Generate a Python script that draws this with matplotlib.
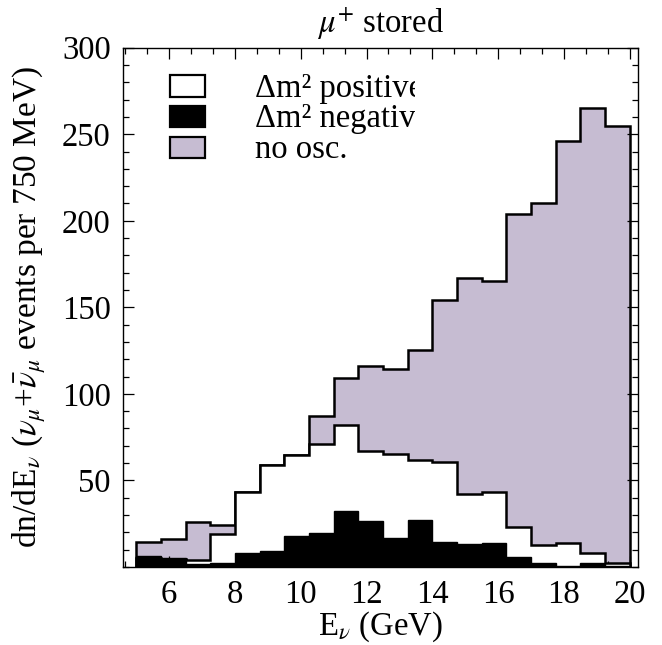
import numpy as np
import matplotlib
matplotlib.use("Agg")
import matplotlib.pyplot as plt
from matplotlib.patches import Rectangle
from matplotlib.ticker import MultipleLocator, FixedLocator
from matplotlib.transforms import Bbox, TransformedBbox

plt.rcParams['font.family'] = ['Liberation Serif', 'DejaVu Serif']
plt.rcParams['mathtext.fontset'] = 'stix'

# Energy binning: 750 MeV bins from 5 to 20 GeV
bin_start = 5.0
bin_width = 0.75
n_bins = 20
edges = bin_start + bin_width * np.arange(n_bins + 1)

# Events per bin
no_osc = [14.3, 16.2, 26.2, 24.3, 43.5, 59.0, 64.4, 87.0, 109.0, 116.0,
          114.5, 125.4, 154.3, 166.9, 165.3, 204.0, 210.0, 246.0, 265.0, 254.5]
dm2_positive = [5.0, 4.5, 4.0, 19.0, 43.5, 59.0, 64.4, 71.0, 82.0, 67.0,
                65.0, 62.0, 60.5, 42.0, 43.5, 23.0, 12.7, 13.7, 7.9, 2.0]
dm2_negative = [6.4, 5.0, 1.5, 2.0, 7.8, 9.4, 17.8, 19.7, 32.2, 26.6,
                17.0, 27.3, 14.6, 13.0, 13.7, 6.0, 2.5, 0.5, 2.0, 0.5]

labels = ["\u0394m\u00b2 positive", "\u0394m\u00b2 negative", "no osc."]
gray = '#c6bcd2'

fig = plt.figure(figsize=(6.62, 6.45), dpi=100)
ax = fig.add_axes([0.186, 0.121, 0.778, 0.805])

ax.stairs(no_osc, edges, fill=True, facecolor=gray, edgecolor='black',
          linewidth=1.8, zorder=1)
ax.stairs(dm2_positive, edges, fill=True, facecolor='white', edgecolor='black',
          linewidth=1.8, zorder=2)
ax.stairs(dm2_negative, edges, fill=True, facecolor='black', edgecolor='black',
          linewidth=1.0, zorder=3)

ax.set_xlim(4.6, 20.26)
ax.set_ylim(0, 300)

ax.xaxis.set_major_locator(FixedLocator([6, 8, 10, 12, 14, 16, 18, 20]))
ax.xaxis.set_minor_locator(MultipleLocator(2 / 3))
ax.yaxis.set_major_locator(FixedLocator([50, 100, 150, 200, 250, 300]))
ax.yaxis.set_minor_locator(MultipleLocator(10))
ax.tick_params(which='both', direction='in', top=True, right=True,
               labelsize=23.5, width=0.9)
ax.tick_params(which='major', length=8)
ax.tick_params(axis='y', which='major', pad=9)
ax.tick_params(axis='x', which='major', pad=9)
ax.tick_params(which='minor', length=4)
for s in ax.spines.values():
    s.set_linewidth(1.0)

ax.set_title(r"$\mu^{+}$ stored", fontsize=23.5, pad=11)
ax.set_xlabel(r"E$_\nu$ (GeV)", fontsize=23.5, labelpad=0)
ax.set_ylabel(r"dn/dE$_\nu$ ($\nu_\mu$+$\bar{\nu}_\mu$ events per 750 MeV)",
              fontsize=24, labelpad=10)

# Legend drawn by hand: swatches with captions clipped at a fixed width
fills = ['white', 'black', gray]
box_bottoms = [0.906, 0.847, 0.787]
clip = TransformedBbox(Bbox.from_extents(0.0, 0.0, 415 / 662, 1.0), fig.transFigure)
for fc, yb, lab in zip(fills, box_bottoms, labels):
    ax.add_patch(Rectangle((0.091, yb), 0.068, 0.041, transform=ax.transAxes,
                           facecolor=fc, edgecolor='black', linewidth=1.6,
                           zorder=5))
    t = ax.text(0.256, yb, lab, transform=ax.transAxes, fontsize=23.5,
                va='baseline', ha='left', zorder=5)
    t.set_clip_on(True)
    t.set_clip_box(clip)

fig.savefig("out.png", dpi=100)
